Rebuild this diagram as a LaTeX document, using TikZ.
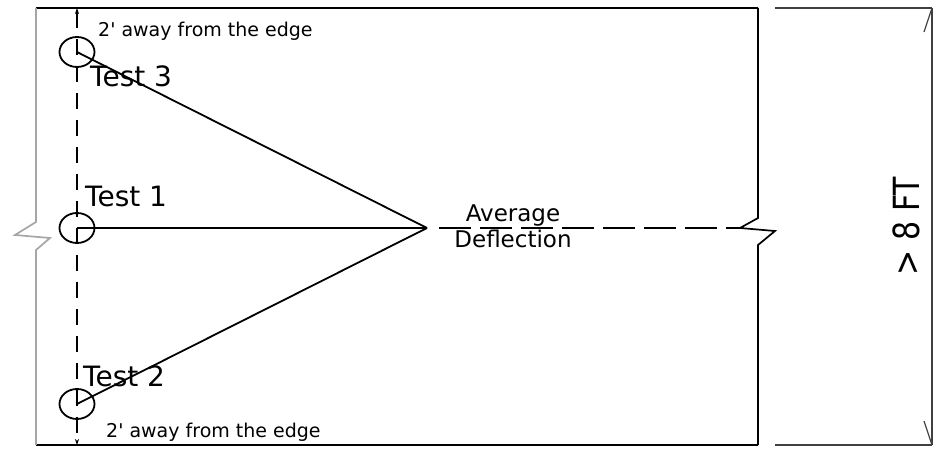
\documentclass[tikz,border=0pt]{standalone}
\usepackage{fontspec}
\newfontfamily\labelfont{DejaVu Sans}
\usetikzlibrary{shapes.geometric, arrows.meta, positioning}

\begin{document}
\begin{tikzpicture}[
    x=1pt, y=-1pt,
    edge/.style={draw=black, line width=2.4pt},
    side/.style={draw=black, line width=1.7pt},
    brk/.style={draw=black!35, line width=1.7pt},
    ray/.style={draw=black, line width=1.8pt},
    hole/.style={ellipse, draw=black, line width=1.8pt, minimum width=35pt, minimum height=30pt, inner sep=0pt},
    guide/.style={draw=black, line width=1.5pt, dash pattern=on 16pt off 11pt, {Stealth[length=6pt, width=4pt]}-{Stealth[length=6pt, width=4pt]}},
    dim/.style={draw=black!75, line width=1.2pt},
    note/.style={font=\labelfont\fontsize{19}{22}\selectfont, inner sep=0pt, anchor=base west},
    tlabel/.style={font=\labelfont\fontsize{28}{32}\selectfont, inner sep=0pt, anchor=base west},
    mid/.style={font=\labelfont\fontsize{23}{26}\selectfont, inner sep=0pt}
]
\useasboundingbox (0,0) rectangle (935,449);

\draw [edge] (36,8) -- (758,8);
\draw [edge] (36,445) -- (758,445);
\draw [brk] (36,8) -- (36,222) -- (15,235) -- (50,238) -- (36,250) -- (36,445);
\draw [side] (758,8) -- (758,218) -- (740,228) -- (775,231) -- (758,245) -- (758,445);

\node (t3) [hole] at (77,52) {};
\node (t1) [hole] at (77,228) {};
\node (t2) [hole] at (77,404) {};
\coordinate (avg) at (427,228);
\coordinate (rbrk) at (740,228);
\coordinate (etop) at (77,8);
\coordinate (ebot) at (77,445);

\draw [guide] (etop) -- (ebot);
\draw [ray] (t3.center) -- (avg);
\draw [ray] (t1.center) -- (avg);
\draw [ray] (t2.center) -- (avg);
\draw [ray, dash pattern=on 32pt off 9pt, shorten <=12pt] (avg) -- (rbrk);

\node (gap3) [note] at (98,37) {2' away from the edge};
\node (gap2) [note] at (106,437) {2' away from the edge};
\node (lbl3) [tlabel] at (90,87) {Test 3};
\node (lbl1) [tlabel] at (85,207) {Test 1};
\node (lbl2) [tlabel] at (83,386) {Test 2};
\node (avglbl) [mid, anchor=base] at (513,222) {Average};
\node (deflbl) [mid, below=3pt of avglbl] {Deflection};

\coordinate (dtop) at (932,8);
\coordinate (dbot) at (932,445);
\draw [dim] (775,8) -- (dtop);
\draw [dim] (775,445) -- (dbot);
\draw [dim] (dtop) -- (dbot);
\draw [dim] (dtop) -- ++(-8,24);
\draw [dim] (dbot) -- ++(-8,-24);
\node (span) [rotate=90, inner sep=0pt, font=\labelfont\fontsize{30}{34}\selectfont] at (906,226) {\scalebox{1}[1.2]{> 8 FT}};

\end{tikzpicture}
\end{document}
